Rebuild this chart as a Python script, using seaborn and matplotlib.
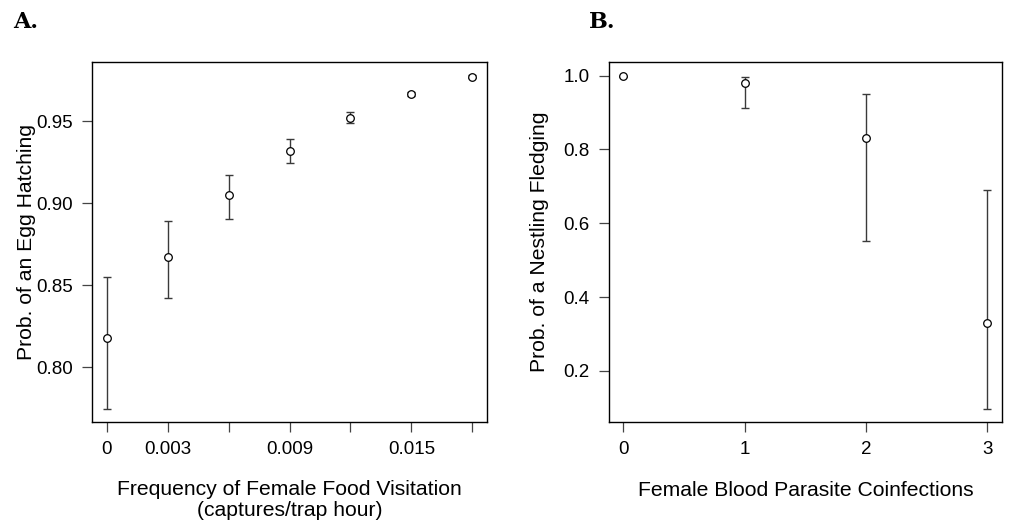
import numpy as np
import pandas as pd
import seaborn as sns
import matplotlib.pyplot as plt

# Panel A data: egg hatching vs female food visitation
visit_rate = [0.0, 0.003, 0.006, 0.009, 0.012, 0.015, 0.018]
hatch_prob = [0.818, 0.867, 0.905, 0.932, 0.952, 0.9665, 0.977]
hatch_lo = [0.7745, 0.842, 0.8905, 0.9246, 0.9486, 0.9650, 0.9760]
hatch_hi = [0.855, 0.889, 0.917, 0.939, 0.9557, 0.9680, 0.9780]
visit_ticks = [0.0, 0.003, 0.006, 0.009, 0.012, 0.015, 0.018]
visit_labels = ['0', '0.003', '', '0.009', '', '0.015', '']

# Panel B data: nestling fledging vs parasite coinfections
coinf = [0, 1, 2, 3]
fledge_prob = [0.998, 0.981, 0.830, 0.329]
fledge_lo = [0.996, 0.913, 0.551, 0.096]
fledge_hi = [1.000, 0.997, 0.951, 0.691]

sns.set_style('white')
plt.rcParams['font.family'] = ['Liberation Sans', 'DejaVu Sans']
plt.rcParams['text.color'] = 'black'
plt.rcParams['axes.labelcolor'] = 'black'
plt.rcParams['xtick.labelcolor'] = 'black'
plt.rcParams['ytick.labelcolor'] = 'black'

fig = plt.figure(figsize=(10.09, 5.20), dpi=100)
axA = fig.add_axes([0.0912, 0.1885, 0.3915, 0.6923])
axB = fig.add_axes([0.6033, 0.1885, 0.3898, 0.6923])

fs = 13.5     # tick labels
fs_lab = 15.2  # axis titles
bar_col = '#3a3a3a'


def draw_panel(ax, x, y, lo, hi):
    df = pd.DataFrame({'x': x, 'y': y})
    yerr = [np.array(y) - np.array(lo), np.array(hi) - np.array(y)]
    ax.errorbar(x, y, yerr=yerr, fmt='none', ecolor=bar_col, elinewidth=1.0,
                capsize=3.2, capthick=1.0, zorder=2)
    sns.scatterplot(data=df, x='x', y='y', ax=ax, marker='o', s=30,
                    facecolor='white', edgecolor='black', linewidth=0.9, zorder=3)
    for sp in ax.spines.values():
        sp.set_visible(True)
        sp.set_color('black')
        sp.set_linewidth(1.0)
    ax.tick_params(direction='out', length=7, width=0.9, color='#444444',
                   labelcolor='black', labelsize=fs, pad=7, bottom=True, left=True)


# Panel A
draw_panel(axA, visit_rate, hatch_prob, hatch_lo, hatch_hi)
axA.set_xlim(-0.00072, 0.01872)
axA.set_ylim(0.7665, 0.986)
axA.set_xticks(visit_ticks)
axA.set_xticklabels(visit_labels)
axA.set_yticks([0.80, 0.85, 0.90, 0.95])
axA.set_yticklabels(['0.80', '0.85', '0.90', '0.95'])
axA.set_xlabel('')
axA.set_ylabel('Prob. of an Egg Hatching', fontsize=fs_lab, labelpad=0)
axA.text(0.5, -0.203, 'Frequency of Female Food Visitation', transform=axA.transAxes,
         ha='center', va='baseline', fontsize=fs_lab)
axA.text(0.5, -0.261, '(captures/trap hour)', transform=axA.transAxes,
         ha='center', va='baseline', fontsize=fs_lab)

# Panel B
draw_panel(axB, coinf, fledge_prob, fledge_lo, fledge_hi)
axB.set_xlim(-0.12, 3.12)
axB.set_ylim(0.0617, 1.037)
axB.set_xticks(coinf)
axB.set_xticklabels([str(c) for c in coinf])
axB.set_yticks([0.2, 0.4, 0.6, 0.8, 1.0])
axB.set_yticklabels(['0.2', '0.4', '0.6', '0.8', '1.0'])
axB.set_xlabel('')
axB.text(0.5, -0.207, 'Female Blood Parasite Coinfections', transform=axB.transAxes,
         ha='center', va='baseline', fontsize=fs_lab)
axB.set_ylabel('Prob. of a Nestling Fledging', fontsize=fs_lab, labelpad=10)

# panel letters
fig.text(0.013, 0.958, 'A.', fontsize=16, fontweight='bold', family='DejaVu Serif',
         ha='left', va='center')
fig.text(0.584, 0.958, 'B.', fontsize=16, fontweight='bold', family='DejaVu Serif',
         ha='left', va='center')

fig.savefig('out.png', dpi=100)
